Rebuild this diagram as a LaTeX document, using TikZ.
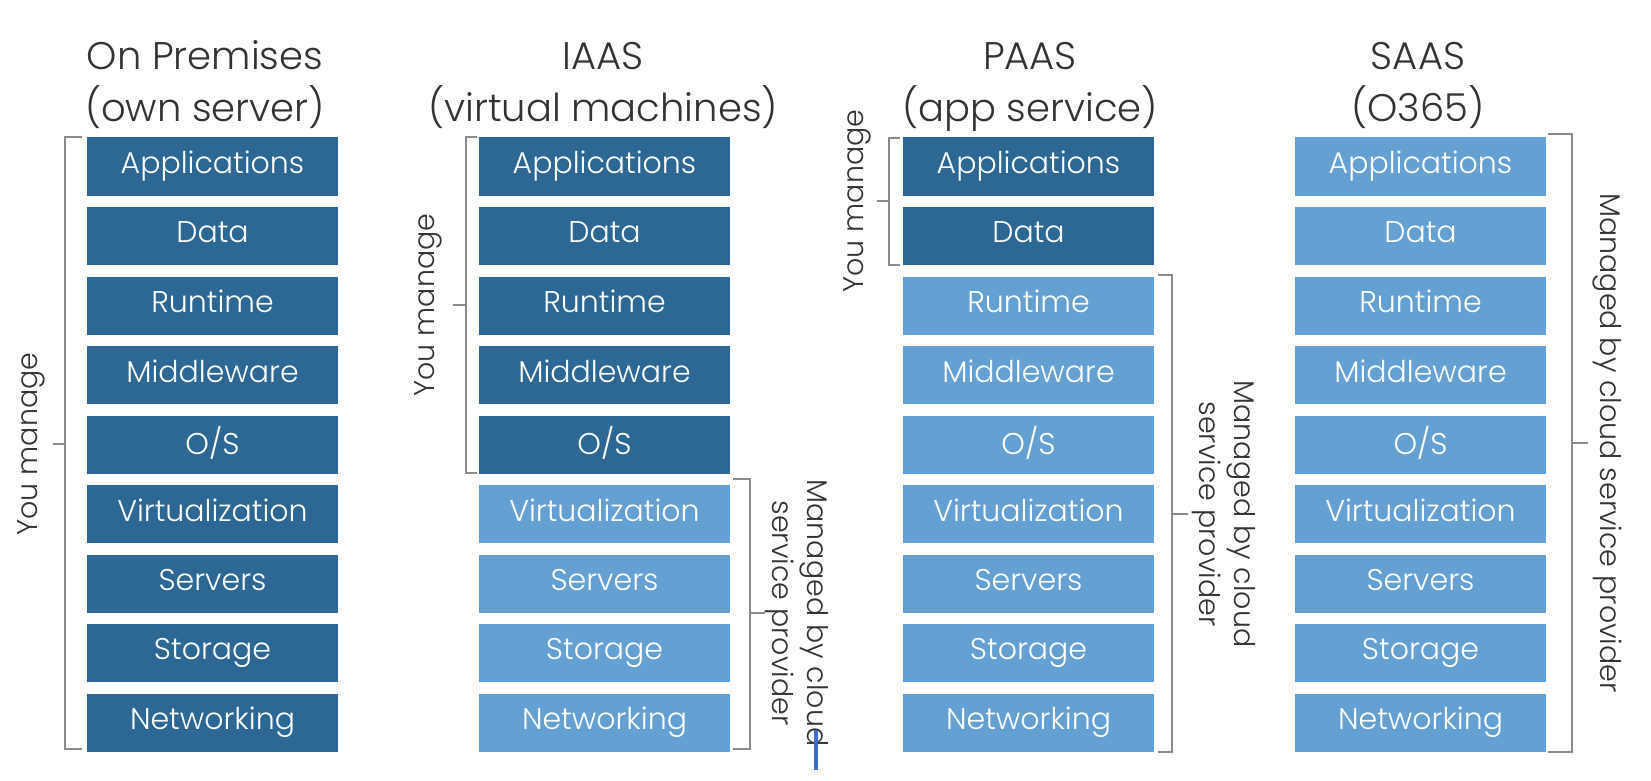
\documentclass[tikz,border=0pt]{standalone}
\usepackage{fontspec}
\setmainfont{Poppins Light}
\definecolor{boxdark}{HTML}{2C6893}
\definecolor{boxlight}{HTML}{65A0D3}
\definecolor{brkgray}{HTML}{8A8A8A}
\definecolor{titlegray}{HTML}{333333}
\definecolor{cursorblue}{HTML}{3C6ED2}
\begin{document}
\begin{tikzpicture}[x=1pt,y=-1pt,
  box/.style={minimum width=251pt, minimum height=58pt, inner sep=0pt, text=white,
    font=\fontsize{30}{32}\selectfont},
  dark/.style={box, fill=boxdark},
  light/.style={box, fill=boxlight},
  ttl/.style={anchor=base, text=titlegray, font=\fontsize{38.5}{44}\selectfont, inner sep=0pt},
  side/.style={text=titlegray, font=\fontsize{28.5}{35}\selectfont, align=center, inner sep=0pt},
  brk/.style={draw=brkgray, line width=1.6pt}]
\useasboundingbox (0,0) rectangle (1651,781);
\fill[white] (0,0) rectangle (1651,781);

% titles
\node[ttl] (t1a) at (205,70) {On Premises};
\node[ttl] (t1b) at (205,122) {(own server)};
\node[ttl] (t2a) at (603,70) {IAAS};
\node[ttl] (t2b) at (603,122) {(virtual machines)};
\node[ttl] (t3a) at (1030,70) {PAAS};
\node[ttl] (t3b) at (1030,122) {(app service)};
\node[ttl] (t4a) at (1418,70) {SAAS};
\node[ttl] (t4b) at (1418,122) {(O365)};

% boxes
\def\labels{Applications,Data,Runtime,Middleware,O/S,Virtualization,Servers,Storage,Networking}
\foreach \lab [count=\i from 0] in \labels {
  \pgfmathsetmacro{\yy}{166.5+69.5*\i}
  \node[dark] (c1r\i) at (212.5,\yy) {\vphantom{Apg}\lab};
  \ifnum\i<5
    \node[dark] (c2r\i) at (604.5,\yy) {\vphantom{Apg}\lab};
  \else
    \node[light] (c2r\i) at (604.5,\yy) {\vphantom{Apg}\lab};
  \fi
  \ifnum\i<2
    \node[dark] (c3r\i) at (1028.5,\yy) {\vphantom{Apg}\lab};
  \else
    \node[light] (c3r\i) at (1028.5,\yy) {\vphantom{Apg}\lab};
  \fi
  \node[light] (c4r\i) at (1420.5,\yy) {\vphantom{Apg}\lab};
}

% On premises bracket
\draw[brk] (82,137) -- (65,137) -- (65,749) -- (82,749);
\draw[brk] (65,444) -- (53,444);
\node[side, rotate=90] (l1) at (31,444) {You manage};

% IAAS brackets
\draw[brk] (477,137) -- (466,137) -- (466,473) -- (477,473);
\draw[brk] (466,305) -- (453,305);
\node[side, rotate=90] (l2) at (428,305) {You manage};
\draw[brk] (733,479) -- (750,479) -- (750,749) -- (733,749);
\draw[brk] (750,613) -- (765,613);
\node[side, rotate=-90] (r2) at (797,613) {Managed by cloud\\service provider};

% PAAS brackets
\draw[brk] (900,138) -- (889,138) -- (889,265) -- (900,265);
\draw[brk] (889,201) -- (877,201);
\node[side, rotate=90] (l3) at (857,201) {You manage};
\draw[brk] (1158,275) -- (1172,275) -- (1172,752) -- (1158,752);
\draw[brk] (1172,514) -- (1188,514);
\node[side, rotate=-90] (r3) at (1224,514) {Managed by cloud\\service provider};

% SAAS bracket
\draw[brk] (1548,134) -- (1572,134) -- (1572,752) -- (1548,752);
\draw[brk] (1572,443) -- (1588,443);
\node[side, rotate=-90] (r4) at (1607,443) {Managed by cloud service provider};

% cursor mark
\draw[cursorblue, line width=4pt] (816,730) -- (816,770);
\end{tikzpicture}
\end{document}
